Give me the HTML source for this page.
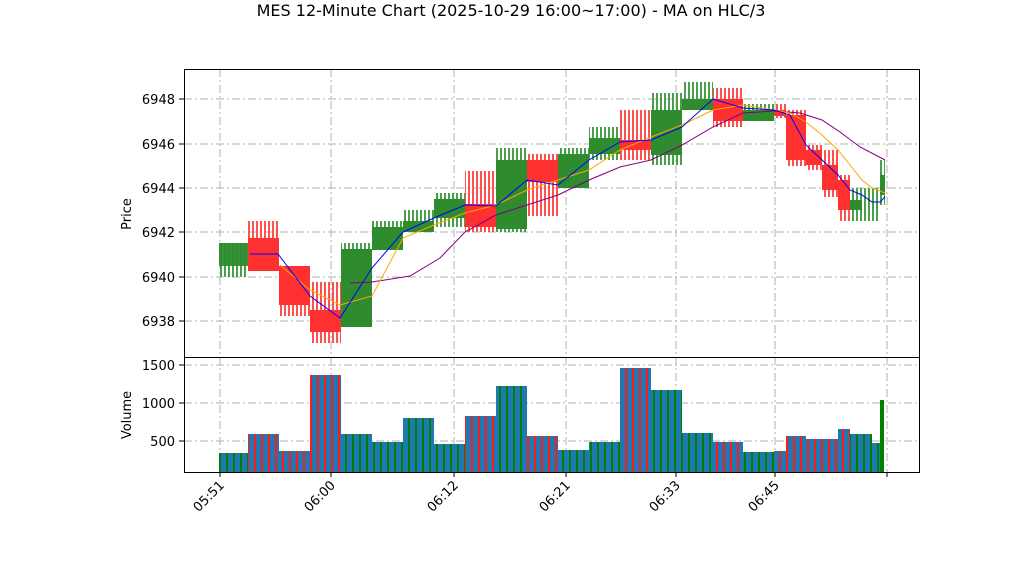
<!DOCTYPE html><html><head><style>body{margin:0;background:#fff}svg{display:block;font-family:"DejaVu Sans","Liberation Sans",sans-serif}</style></head><body>
<svg width="1022" height="575" xmlns="http://www.w3.org/2000/svg">
<defs>
<pattern id="pr" width="4" height="10" patternUnits="userSpaceOnUse"><rect width="2" height="10" fill="#ff5050"/></pattern>
<pattern id="pg" width="4" height="10" patternUnits="userSpaceOnUse"><rect width="2" height="10" fill="#4aa04a"/></pattern>
<pattern id="vr" width="7" height="10" patternUnits="userSpaceOnUse"><rect width="7" height="10" fill="#1f77b4"/><rect x="2" width="2" height="10" fill="#ff1a1a"/></pattern>
<pattern id="vg" width="7" height="10" patternUnits="userSpaceOnUse"><rect width="7" height="10" fill="#1f77b4"/><rect x="2" width="2" height="10" fill="#008000"/></pattern>
</defs>
<text x="511" y="16" font-size="16" text-anchor="middle">MES 12-Minute Chart (2025-10-29 16:00~17:00) - MA on HLC/3</text>
<g stroke="#b0b0b0" stroke-width="1" stroke-dasharray="8,3,2,3">
<line x1="184" x2="920" y1="99" y2="99"/><line x1="184" x2="920" y1="144" y2="144"/><line x1="184" x2="920" y1="188" y2="188"/><line x1="184" x2="920" y1="232" y2="232"/><line x1="184" x2="920" y1="277" y2="277"/><line x1="184" x2="920" y1="321" y2="321"/>
<line x1="184" x2="920" y1="365" y2="365"/><line x1="184" x2="920" y1="403" y2="403"/><line x1="184" x2="920" y1="441" y2="441"/>
<line x1="220" x2="220" y1="69" y2="472"/><line x1="331" x2="331" y1="69" y2="472"/><line x1="454" x2="454" y1="69" y2="472"/><line x1="566" x2="566" y1="69" y2="472"/><line x1="676" x2="676" y1="69" y2="472"/><line x1="775" x2="775" y1="69" y2="472"/><line x1="887" x2="887" y1="69" y2="472"/>
</g>
<g>
<rect x="219" y="243" width="29" height="34" fill="url(#pg)"/>
<rect x="248" y="221" width="31" height="50" fill="url(#pr)"/>
<rect x="279" y="266" width="31" height="50" fill="url(#pr)"/>
<rect x="310" y="282" width="31" height="61" fill="url(#pr)"/>
<rect x="341" y="243" width="31" height="84" fill="url(#pg)"/>
<rect x="372" y="221" width="31" height="29" fill="url(#pg)"/>
<rect x="403" y="210" width="31" height="22" fill="url(#pg)"/>
<rect x="434" y="193" width="31" height="34" fill="url(#pg)"/>
<rect x="465" y="171" width="31" height="61" fill="url(#pr)"/>
<rect x="496" y="148" width="31" height="84" fill="url(#pg)"/>
<rect x="527" y="154" width="31" height="62" fill="url(#pr)"/>
<rect x="558" y="148" width="31" height="40" fill="url(#pg)"/>
<rect x="589" y="127" width="31" height="33" fill="url(#pg)"/>
<rect x="620" y="110" width="31" height="50" fill="url(#pr)"/>
<rect x="651" y="93" width="31" height="72" fill="url(#pg)"/>
<rect x="682" y="82" width="31" height="28" fill="url(#pg)"/>
<rect x="713" y="88" width="30" height="39" fill="url(#pr)"/>
<rect x="743" y="104" width="31" height="17" fill="url(#pg)"/>
<rect x="774" y="104" width="12" height="14" fill="url(#pr)"/>
<rect x="786" y="110" width="20" height="56" fill="url(#pr)"/>
<rect x="806" y="145" width="16" height="25" fill="url(#pr)"/>
<rect x="822" y="150" width="16" height="47" fill="url(#pr)"/>
<rect x="838" y="175" width="12" height="46" fill="url(#pr)"/>
<rect x="850" y="188" width="30" height="33" fill="url(#pg)"/>
<rect x="880" y="160" width="5" height="45" fill="url(#pg)"/>
<rect x="219" y="243" width="29" height="23" fill="#2e8b2e" opacity=".95"/>
<rect x="248" y="238" width="31" height="33" fill="#ff3030"/>
<rect x="279" y="266" width="31" height="39" fill="#ff3030"/>
<rect x="310" y="310" width="31" height="22" fill="#ff3030"/>
<rect x="341" y="249" width="31" height="78" fill="#2e8b2e"/>
<rect x="372" y="227" width="31" height="23" fill="#2e8b2e"/>
<rect x="403" y="221" width="31" height="11" fill="#2e8b2e"/>
<rect x="434" y="199" width="31" height="19" fill="#2e8b2e"/>
<rect x="465" y="204" width="31" height="23" fill="#ff3030"/>
<rect x="496" y="160" width="31" height="69" fill="#2e8b2e"/>
<rect x="527" y="160" width="31" height="22" fill="#ff3030"/>
<rect x="558" y="154" width="31" height="34" fill="#2e8b2e"/>
<rect x="589" y="138" width="31" height="16" fill="#2e8b2e"/>
<rect x="620" y="140" width="31" height="10" fill="#ff3030"/>
<rect x="651" y="110" width="31" height="45" fill="#2e8b2e"/>
<rect x="682" y="99" width="31" height="11" fill="#2e8b2e"/>
<rect x="713" y="99" width="30" height="22" fill="#ff3030"/>
<rect x="743" y="110" width="31" height="11" fill="#2e8b2e"/>
<rect x="774" y="110" width="12" height="6" fill="#ff3030"/>
<rect x="786" y="115" width="20" height="45" fill="#ff3030"/>
<rect x="806" y="150" width="16" height="15" fill="#ff3030"/>
<rect x="822" y="165" width="16" height="25" fill="#ff3030"/>
<rect x="838" y="180" width="12" height="30" fill="#ff3030"/>
<rect x="850" y="200" width="12" height="10" fill="#2e8b2e"/>
<rect x="880" y="175" width="5" height="20" fill="#2e8b2e"/>
</g>
<polyline fill="none" stroke="#800080" stroke-width="1" points="350,283 372,282 410,276 440,258 465,232 496,215 527,205 558,195 589,180 620,167 651,160 682,145 713,127 743,113 774,111 800,113 822,120 840,132 860,147 885,160"/>
<polyline fill="none" stroke="#ffa500" stroke-width="1" points="280,265 310,290 340,305 372,296 403,238 434,225 465,213 496,205 527,190 558,180 589,170 620,150 651,137 682,125 713,110 743,105 774,110 790,113 806,122 822,135 838,150 850,165 862,180 872,188 885,193"/>
<polyline fill="none" stroke="#0000ff" stroke-width="1" points="250,254 278,254 310,296 340,318 372,268 403,232 434,218 465,205 496,206 527,180 558,185 589,160 620,142 651,140 682,127 713,99 743,108 774,110 790,115 806,145 822,160 838,175 850,190 862,195 872,202 880,202 885,197"/>
<g>
<rect x="219" y="453" width="29" height="19" fill="url(#vg)"/>
<rect x="248" y="434" width="31" height="38" fill="url(#vr)"/>
<rect x="279" y="451" width="31" height="21" fill="url(#vr)"/>
<rect x="310" y="375" width="31" height="97" fill="url(#vr)"/>
<rect x="341" y="434" width="31" height="38" fill="url(#vg)"/>
<rect x="372" y="442" width="31" height="30" fill="url(#vg)"/>
<rect x="403" y="418" width="31" height="54" fill="url(#vg)"/>
<rect x="434" y="444" width="31" height="28" fill="url(#vg)"/>
<rect x="465" y="416" width="31" height="56" fill="url(#vr)"/>
<rect x="496" y="386" width="31" height="86" fill="url(#vg)"/>
<rect x="527" y="436" width="31" height="36" fill="url(#vr)"/>
<rect x="558" y="450" width="31" height="22" fill="url(#vg)"/>
<rect x="589" y="442" width="31" height="30" fill="url(#vg)"/>
<rect x="620" y="368" width="31" height="104" fill="url(#vr)"/>
<rect x="651" y="390" width="31" height="82" fill="url(#vg)"/>
<rect x="682" y="433" width="31" height="39" fill="url(#vg)"/>
<rect x="713" y="442" width="30" height="30" fill="url(#vr)"/>
<rect x="743" y="452" width="31" height="20" fill="url(#vg)"/>
<rect x="774" y="451" width="12" height="21" fill="url(#vr)"/>
<rect x="786" y="436" width="20" height="36" fill="url(#vr)"/>
<rect x="806" y="439" width="32" height="33" fill="url(#vr)"/>
<rect x="838" y="429" width="12" height="43" fill="url(#vr)"/>
<rect x="850" y="434" width="22" height="38" fill="url(#vg)"/>
<rect x="872" y="443" width="8" height="29" fill="url(#vg)"/>
<rect x="880" y="400" width="4" height="72" fill="#008000"/>
</g>
<rect x="184.5" y="69.5" width="735" height="288" fill="none" stroke="#000"/>
<rect x="184.5" y="357.5" width="735" height="115" fill="none" stroke="#000"/>
<g font-size="13" text-anchor="end">
<text x="175" y="104">6948</text><text x="175" y="149">6946</text><text x="175" y="193">6944</text><text x="175" y="237">6942</text><text x="175" y="282">6940</text><text x="175" y="326">6938</text>
<text x="175" y="370">1500</text><text x="175" y="408">1000</text><text x="175" y="446">500</text>
</g>
<g stroke="#000"><line x1="179" x2="184" y1="99" y2="99"/><line x1="179" x2="184" y1="144" y2="144"/><line x1="179" x2="184" y1="188" y2="188"/><line x1="179" x2="184" y1="232" y2="232"/><line x1="179" x2="184" y1="277" y2="277"/><line x1="179" x2="184" y1="321" y2="321"/><line x1="179" x2="184" y1="365" y2="365"/><line x1="179" x2="184" y1="403" y2="403"/><line x1="179" x2="184" y1="441" y2="441"/>
<line x1="220" x2="220" y1="472" y2="477"/><line x1="331" x2="331" y1="472" y2="477"/><line x1="454" x2="454" y1="472" y2="477"/><line x1="566" x2="566" y1="472" y2="477"/><line x1="676" x2="676" y1="472" y2="477"/><line x1="775" x2="775" y1="472" y2="477"/><line x1="887" x2="887" y1="472" y2="477"/></g>
<text transform="translate(131,214) rotate(-90)" font-size="13" text-anchor="middle">Price</text>
<text transform="translate(131,415) rotate(-90)" font-size="13" text-anchor="middle">Volume</text>
<g font-size="13" text-anchor="end">
<text transform="translate(225,486) rotate(-45)">05:51</text>
<text transform="translate(336,486) rotate(-45)">06:00</text>
<text transform="translate(459,486) rotate(-45)">06:12</text>
<text transform="translate(571,486) rotate(-45)">06:21</text>
<text transform="translate(681,486) rotate(-45)">06:33</text>
<text transform="translate(780,486) rotate(-45)">06:45</text>
</g>
</svg></body></html>
